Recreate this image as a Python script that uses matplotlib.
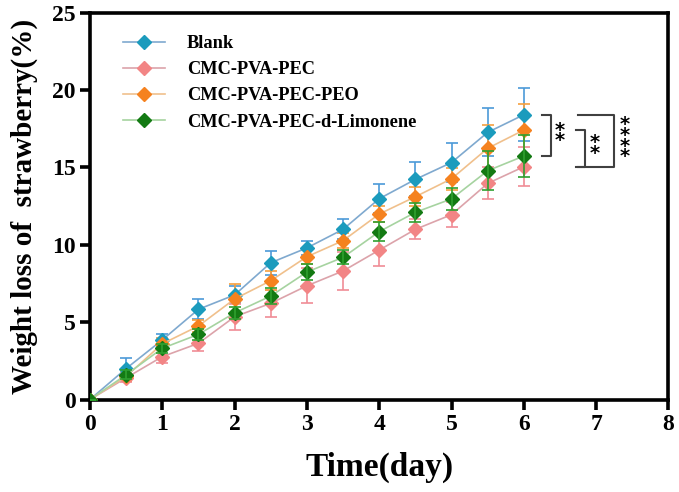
import matplotlib.pyplot as plt
import numpy as np

plt.rcParams['font.family'] = ['Liberation Serif', 'DejaVu Serif']
plt.rcParams['font.weight'] = 'bold'

days = [0, 0.5, 1, 1.5, 2, 2.5, 3, 3.5, 4, 4.5, 5, 5.5, 6]

labels = ['Blank', 'CMC-PVA-PEC', 'CMC-PVA-PEC-PEO', 'CMC-PVA-PEC-d-Limonene']

blank = [0, 2.0, 3.85, 5.83, 6.76, 8.84, 9.8, 11.0, 12.98, 14.23, 15.32, 17.27, 18.41]
pec = [0, 1.4, 2.77, 3.63, 5.35, 6.22, 7.35, 8.31, 9.66, 11.0, 11.95, 13.97, 15.05]
peo = [0, 1.5, 3.6, 4.75, 6.5, 7.68, 9.23, 10.27, 11.99, 13.11, 14.27, 16.24, 17.42]
limo = [0, 1.6, 3.31, 4.21, 5.6, 6.69, 8.24, 9.19, 10.85, 12.1, 12.97, 14.79, 15.74]

blank_err = [0, 0.7, 0.4, 0.65, 0.55, 0.76, 0.45, 0.65, 0.95, 1.1, 1.25, 1.55, 1.7]
pec_err = [0, 0.25, 0.4, 0.52, 0.84, 0.87, 1.12, 1.23, 1.05, 0.65, 0.8, 1.03, 1.25]
peo_err = [0, 0.3, 0.35, 0.4, 0.95, 0.6, 0.45, 0.5, 0.5, 0.6, 0.7, 1.5, 1.66]
limo_err = [0, 0.3, 0.3, 0.35, 0.4, 0.5, 0.5, 0.45, 0.6, 0.6, 0.7, 1.25, 1.38]

series = [blank, pec, peo, limo]
errors = [blank_err, pec_err, peo_err, limo_err]
marker_colors = ['#1b9bbd', '#f28585', '#f5821f', '#137a13']
line_colors = ['#7fa9cf', '#dca3aa', '#f0c08c', '#a6d3a0']
err_colors = ['#4c9ad8', '#f08c96', '#f5a040', '#2fa02f']

fig = plt.figure(figsize=(6.79, 4.92), dpi=100)
ax = fig.add_axes([0.1325, 0.188, 0.852, 0.786])

for i, (y, e, lab, mc, lc, ec) in enumerate(zip(series, errors, labels,
                                                marker_colors, line_colors, err_colors)):
    # the green series has its error bars drawn over the markers
    over = 3.5 if i == 3 else 2
    ax.errorbar(days, y, yerr=e, fmt='none', ecolor=ec, elinewidth=1.2,
                capsize=4, capthick=1.2, zorder=over)
    ax.plot(days, y, color=lc, lw=1.2, marker='D', ms=7, mfc=mc, mec=mc,
            label=lab, zorder=3)

# significance brackets
bc = '#404040'
brackets = [
    (6.25, 6.38, blank[-1], limo[-1], 6.5, '**'),
    (6.72, 6.85, peo[-1], pec[-1], 6.98, '**'),
    (6.75, 7.25, blank[-1], pec[-1], 7.4, '****'),
]
for x0, x1, ytop, ybot, xt, txt in brackets:
    ax.plot([x0, x1, x1, x0], [ytop, ytop, ybot, ybot], color=bc, lw=1.5,
            clip_on=False, zorder=4)
    ax.text(xt, (ytop + ybot) / 2, '\n'.join(txt), ha='center', va='center',
            fontsize=14, linespacing=0.45, color='black', fontfamily='DejaVu Sans')

ax.set_xlim(0, 8)
ax.set_ylim(0, 25)
ax.set_xticks(range(0, 9))
ax.set_yticks(range(0, 26, 5))
ax.tick_params(axis='both', which='major', labelsize=17, width=2.6, length=7,
               direction='out')
for lbl in ax.get_xticklabels() + ax.get_yticklabels():
    lbl.set_fontweight('bold')
for s in ax.spines.values():
    s.set_linewidth(2.6)

ax.set_xlabel('Time(day)', fontsize=24, fontweight='bold', labelpad=12)
ax.set_ylabel('Weight loss of  strawberry(%)', fontsize=21, fontweight='bold', labelpad=10)

leg = ax.legend(loc='upper left', bbox_to_anchor=(0.028, 0.985), frameon=False,
                fontsize=13.2, handlelength=2.3, handletextpad=1.2,
                labelspacing=0.5, markerscale=1.0)
for t in leg.get_texts():
    t.set_fontweight('bold')

fig.savefig('out.png', dpi=100)
